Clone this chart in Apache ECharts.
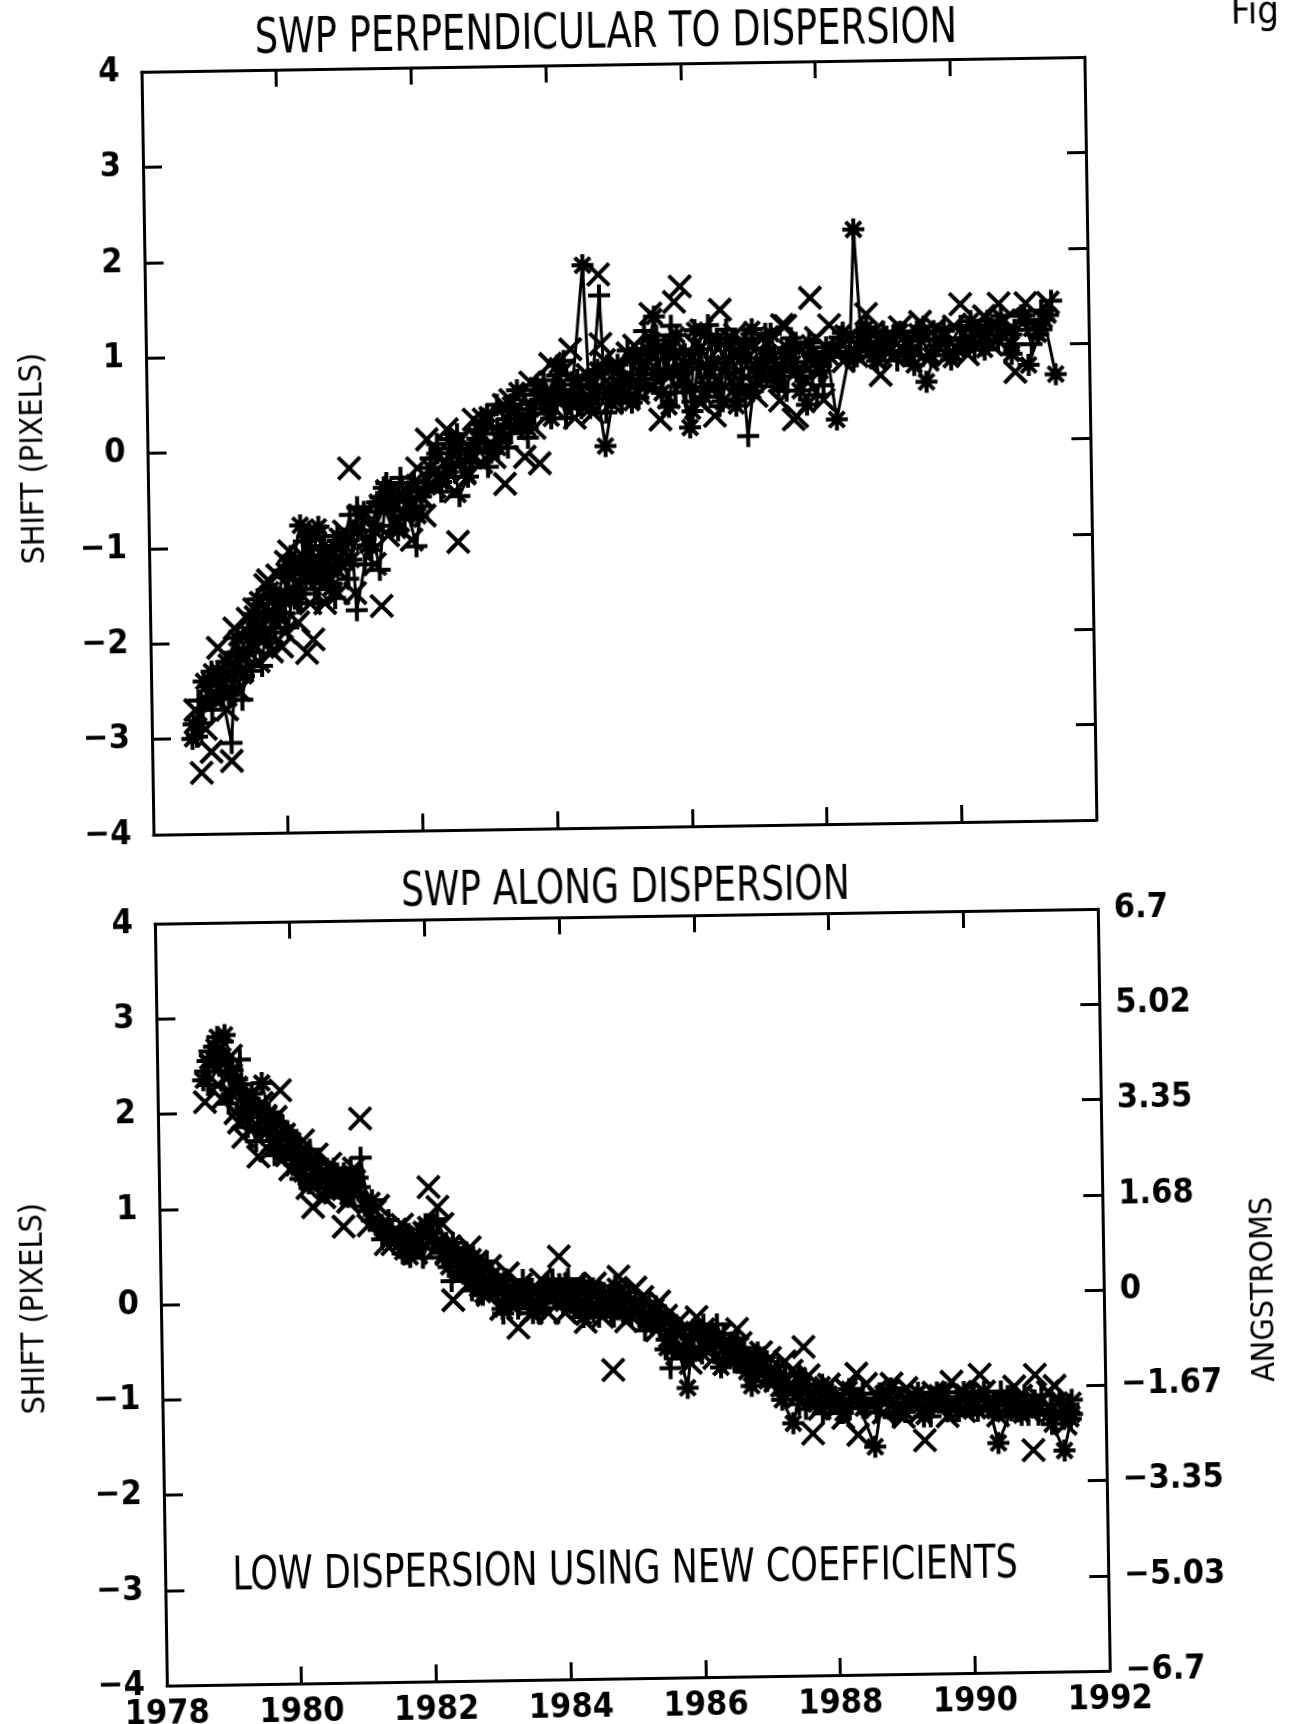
<!DOCTYPE html>
<html>
<head>
<meta charset="utf-8">
<script src="https://cdn.jsdelivr.net/npm/echarts@6.0.0/dist/echarts.min.js"></script>
<style>
html,body{margin:0;padding:0;background:#fff;overflow:hidden;}
#chart{width:1291px;height:1724px;transform:rotate(-0.9deg);transform-origin:645.5px 862px;background:#fff;}
</style>
</head>
<body>
<div id="chart"></div>
<script>
// ---------- labels ----------
const yearLabels = ['1978','1980','1982','1984','1986','1988','1990','1992'];
const leftTickLabels = ['\u22124','\u22123','\u22122','\u22121','0','1','2','3','4'];
const rightTickLabels = ['\u22126.7','\u22125.03','\u22123.35','\u22121.67','0','1.68','3.35','5.02','6.7'];

const titleTop = 'SWP PERPENDICULAR TO DISPERSION';
const titleBottom = 'SWP ALONG DISPERSION';
const noteBottom = 'LOW DISPERSION USING NEW COEFFICIENTS';
const yNameLeft = 'SHIFT (PIXELS)';
const yNameRight = 'ANGSTROMS';
const figureLabel = 'Figure 12';

// ---------- data: [year, shift in pixels] ----------
// top panel: perpendicular to dispersion
const perpCross = [
[1978.73,-3.36],[1978.88,-3.14],[1978.95,-2.6],[1979.18,-3.24],[1979.12,-2.7],[1979.2,-2.35],[1979.3,-2.5],[1979.4,-2.15],[1979.5,-2.0],[1979.55,-1.65],[1979.65,-1.95],[1979.72,-1.4],[1979.76,-1.35],[1979.85,-1.8],[1979.95,-2.05],[1980.03,-1.16],[1980.1,-1.55],[1980.2,-1.8],[1980.32,-2.12],[1980.42,-1.98],[1980.5,-1.2],[1980.6,-1.6],[1980.7,-1.35],[1980.8,-1.5],[1980.99,-0.19],[1981.05,-1.5],[1981.24,-0.94],[1981.44,-1.64],[1981.5,-0.6],[1981.7,-0.75],[1981.75,-0.45],[1981.9,-0.95],[1982.05,-0.5],[1982.15,0.1],[1982.3,-0.3],[1982.45,0.2],[1982.59,-0.98],[1982.7,-0.25],[1982.85,0.3],[1982.95,-0.15],[1983.1,0.05],[1983.3,0.45],[1983.3,-0.38],[1983.45,0.2],[1983.6,-0.1],[1983.7,0.68],[1983.82,-0.17],[1984.0,0.87],[1984.15,0.5],[1984.3,1.02],[1984.45,0.6],[1984.73,1.8],[1984.75,1.07],[1984.9,0.45],[1985.0,0.8],[1985.15,0.97],[1985.3,0.55],[1985.5,1.38],[1985.62,0.27],[1985.7,0.75],[1985.85,1.5],[1985.94,1.66],[1986.1,0.9],[1986.25,1.2],[1986.43,0.3],[1986.53,1.41],[1986.7,0.95],[1986.85,0.55],[1987.0,1.05],[1987.2,0.7],[1987.45,1.24],[1987.5,1.23],[1987.6,0.25],[1987.65,0.28],[1987.87,1.52],[1988.0,0.9],[1988.15,1.23],[1988.35,0.85],[1988.7,1.34],[1988.9,0.7],[1989.0,1.0],[1989.2,1.2],[1989.4,0.95],[1989.73,1.18],[1989.9,0.9],[1990.1,1.43],[1990.3,1.0],[1990.45,1.3],[1990.67,1.43],[1990.9,0.71],[1991.07,1.43],[1991.4,1.43]
];
const perpCross2 = [
[1978.65,-2.7],[1978.8,-2.9],[1979.0,-2.05],[1979.1,-2.55],[1979.25,-1.85],[1979.35,-2.3],[1979.45,-1.75],[1979.6,-2.2],[1979.7,-1.65],[1979.8,-2.1],[1979.9,-1.3],[1980.0,-1.9],[1980.08,-1.05],[1980.18,-1.4],[1980.28,-1.1],[1980.38,-1.6],[1980.48,-0.9],[1980.58,-1.4],[1980.68,-1.05],[1980.78,-1.25],[1980.9,-0.85],[1981.15,-0.7],[1981.35,-1.2],[1981.55,-0.9],[1981.65,-0.4],[1981.85,-0.6],[1982.0,-0.2],[1982.1,-0.7],[1982.25,-0.4],[1982.4,-0.15],[1982.55,-0.45],[1982.65,0.1],[1982.8,-0.1],[1983.0,0.3],[1983.15,-0.1],[1983.25,0.15],[1983.4,0.5],[1983.55,0.3],[1983.75,0.2],[1983.9,0.55],[1984.05,0.4],[1984.2,0.8],[1984.35,0.3],[1984.55,0.75],[1984.62,0.35],[1984.8,0.9],[1984.95,0.6],[1985.1,0.7],[1985.25,1.05],[1985.4,0.85],[1985.5,0.6],[1985.6,1.0],[1985.75,0.5],[1985.85,0.95],[1986.0,0.7],[1986.15,1.05],[1986.2,0.45],[1986.35,0.75],[1986.5,1.0],[1986.6,0.6],[1986.75,1.15],[1986.9,0.7],[1987.05,0.5],[1987.15,1.1],[1987.3,0.9],[1987.4,0.45],[1987.55,0.8],[1987.7,1.0],[1987.8,0.65],[1987.95,1.1],[1988.05,0.45],[1988.25,0.95],[1988.45,1.1],[1988.55,0.9],[1988.8,1.15],[1989.1,0.9],[1989.3,1.05],[1989.5,1.25],[1989.6,0.85],[1989.85,1.1],[1990.0,1.2],[1990.2,0.9],[1990.4,1.15],[1990.55,1.0],[1990.75,1.25],[1991.2,1.2]
];
const perpPlus = [
[1978.67,-2.98],[1978.74,-2.84],[1978.85,-2.45],[1978.95,-2.35],[1979.05,-2.55],[1979.18,-3.05],[1979.25,-2.3],[1979.35,-2.6],[1979.45,-2.1],[1979.55,-1.85],[1979.65,-2.25],[1979.75,-1.6],[1979.85,-1.9],[1979.95,-1.55],[1980.05,-1.85],[1980.15,-1.3],[1980.25,-1.5],[1980.35,-0.9],[1980.45,-1.45],[1980.55,-1.0],[1980.65,-1.25],[1980.75,-1.55],[1980.85,-1.1],[1980.99,-0.68],[1981.07,-1.68],[1981.2,-1.2],[1981.32,-0.85],[1981.42,-1.26],[1981.54,-0.35],[1981.65,-0.65],[1981.8,-0.5],[1981.97,-1.02],[1982.05,-0.6],[1982.2,-0.1],[1982.35,-0.45],[1982.5,0.0],[1982.62,-0.5],[1982.75,-0.3],[1982.9,0.05],[1983.05,-0.2],[1983.2,0.2],[1983.35,0.0],[1983.5,0.35],[1983.65,0.1],[1983.8,0.6],[1983.95,0.4],[1984.1,0.75],[1984.22,0.3],[1984.35,0.55],[1984.45,0.4],[1984.6,0.5],[1984.74,1.58],[1984.82,0.35],[1984.95,0.6],[1985.05,0.45],[1985.2,0.75],[1985.32,0.6],[1985.45,0.9],[1985.58,1.15],[1985.7,0.8],[1985.8,1.25],[1985.9,0.75],[1986.0,0.55],[1986.12,1.0],[1986.25,0.6],[1986.38,1.15],[1986.5,0.4],[1986.62,1.2],[1986.72,0.75],[1986.82,0.95],[1986.92,0.08],[1987.05,0.8],[1987.18,1.0],[1987.3,0.65],[1987.45,0.9],[1987.58,1.1],[1987.72,0.7],[1987.9,0.95],[1988.05,0.6],[1988.2,1.0],[1988.4,0.9],[1988.6,1.05],[1988.8,0.9],[1988.95,1.15],[1989.15,0.85],[1989.35,1.0],[1989.55,1.2],[1989.7,0.9],[1989.9,1.05],[1990.1,1.07],[1990.3,1.1],[1990.5,1.25],[1990.7,1.18],[1990.85,1.1],[1991.0,1.3],[1991.15,1.0],[1991.3,1.35],[1991.45,1.45]
];
const perpPlus2 = [
[1978.7,-2.6],[1978.9,-2.7],[1979.1,-2.35],[1979.3,-2.1],[1979.5,-2.3],[1979.7,-1.7],[1979.85,-1.5],[1980.0,-1.7],[1980.1,-1.1],[1980.2,-1.6],[1980.3,-0.95],[1980.4,-1.35],[1980.5,-1.6],[1980.6,-0.9],[1980.7,-1.4],[1980.8,-0.95],[1980.95,-1.35],[1981.1,-0.6],[1981.3,-1.05],[1981.45,-0.5],[1981.6,-0.8],[1981.75,-0.3],[1981.9,-0.7],[1982.1,-0.35],[1982.3,0.05],[1982.45,-0.3],[1982.6,0.15],[1982.8,-0.2],[1983.0,0.15],[1983.2,0.45],[1983.4,0.15],[1983.6,0.55],[1983.75,0.35],[1983.9,0.7],[1984.05,0.5],[1984.2,0.9],[1984.4,0.45],[1984.55,0.7],[1984.7,0.5],[1984.85,0.85],[1985.0,0.6],[1985.15,1.0],[1985.3,0.5],[1985.4,1.2],[1985.55,0.7],[1985.7,1.05],[1985.85,0.55],[1986.0,0.95],[1986.1,0.45],[1986.2,0.8],[1986.35,1.25],[1986.45,0.6],[1986.6,0.9],[1986.75,0.45],[1986.9,1.1],[1987.05,0.6],[1987.2,1.15],[1987.35,0.8],[1987.5,0.55],[1987.65,1.05],[1987.8,0.85],[1987.95,0.5],[1988.1,0.9],[1988.3,1.1],[1988.5,0.85],[1988.7,1.1],[1988.9,0.95],[1989.1,1.1],[1989.3,0.9],[1989.5,1.05],[1989.7,1.15],[1989.9,0.95],[1990.1,1.2],[1990.3,0.95],[1990.5,1.1],[1990.7,1.3],[1990.9,1.15],[1991.1,1.25],[1991.3,1.15]
];
const perpStar = [
[1978.6,-3.0],[1978.78,-2.4],[1978.9,-2.3],[1979.02,-2.5],[1979.12,-2.2],[1979.28,-1.95],[1979.38,-2.35],[1979.52,-1.7],[1979.65,-1.85],[1979.8,-1.45],[1979.92,-1.75],[1980.02,-1.5],[1980.12,-1.2],[1980.25,-0.78],[1980.32,-1.35],[1980.42,-1.15],[1980.52,-0.8],[1980.62,-1.3],[1980.72,-1.05],[1980.84,-1.2],[1980.95,-0.95],[1981.1,-0.85],[1981.25,-1.0],[1981.4,-0.55],[1981.5,-0.4],[1981.65,-0.55],[1981.8,-0.7],[1981.95,-0.35],[1982.05,-0.5],[1982.2,-0.2],[1982.35,-0.35],[1982.5,0.1],[1982.65,-0.15],[1982.8,0.0],[1982.95,0.25],[1983.1,-0.05],[1983.25,0.15],[1983.4,0.45],[1983.55,0.25],[1983.7,0.4],[1983.85,0.5],[1984.0,0.3],[1984.15,0.65],[1984.3,0.45],[1984.5,1.9],[1984.58,0.4],[1984.68,0.6],[1984.8,0.0],[1984.92,0.5],[1985.05,0.7],[1985.2,0.45],[1985.35,0.75],[1985.45,1.0],[1985.55,1.35],[1985.65,0.55],[1985.78,1.0],[1985.9,0.75],[1986.06,0.18],[1986.15,1.2],[1986.28,0.5],[1986.4,0.85],[1986.55,0.45],[1986.68,1.05],[1986.8,0.55],[1986.92,0.9],[1987.0,1.2],[1987.12,0.7],[1987.25,0.95],[1987.38,0.6],[1987.52,1.0],[1987.65,0.75],[1987.8,0.4],[1987.95,0.85],[1988.1,1.0],[1988.24,0.24],[1988.45,0.95],[1988.53,2.23],[1988.62,1.1],[1988.75,0.95],[1988.9,1.05],[1989.05,0.95],[1989.2,1.15],[1989.4,0.8],[1989.58,0.62],[1989.75,1.0],[1989.95,0.85],[1990.15,1.0],[1990.3,1.15],[1990.45,0.95],[1990.65,1.05],[1990.85,0.9],[1991.1,0.78],[1991.34,1.25],[1991.5,0.68]
];
const perpStar2 = [
[1978.62,-2.85],[1978.82,-2.6],[1979.0,-2.3],[1979.15,-2.55],[1979.32,-2.15],[1979.45,-1.9],[1979.6,-1.55],[1979.72,-1.95],[1979.88,-1.6],[1980.0,-1.25],[1980.15,-1.55],[1980.28,-1.2],[1980.38,-0.85],[1980.48,-1.3],[1980.58,-1.1],[1980.68,-1.45],[1980.8,-0.9],[1981.0,-1.15],[1981.2,-0.65],[1981.35,-0.85],[1981.55,-0.5],[1981.7,-0.85],[1981.85,-0.45],[1982.0,-0.7],[1982.15,-0.4],[1982.3,-0.05],[1982.45,-0.25],[1982.6,0.05],[1982.75,-0.3],[1982.9,0.1],[1983.05,0.35],[1983.2,0.0],[1983.35,0.3],[1983.5,0.6],[1983.65,0.2],[1983.8,0.65],[1983.95,0.45],[1984.1,0.85],[1984.25,0.5],[1984.4,0.7],[1984.55,0.45],[1984.7,0.8],[1984.85,0.55],[1985.0,0.85],[1985.12,0.55],[1985.25,0.95],[1985.4,0.65],[1985.52,1.1],[1985.62,0.75],[1985.75,0.4],[1985.88,1.15],[1986.0,0.85],[1986.1,0.35],[1986.22,1.0],[1986.35,0.6],[1986.48,1.1],[1986.6,0.8],[1986.75,0.4],[1986.88,1.0],[1987.0,0.55],[1987.15,0.85],[1987.28,1.15],[1987.42,0.7],[1987.55,0.95],[1987.7,0.55],[1987.85,1.05],[1988.0,0.75],[1988.15,0.9],[1988.35,1.15],[1988.55,0.9],[1988.7,1.2],[1988.85,0.85],[1989.0,1.1],[1989.25,0.95],[1989.45,1.15],[1989.65,0.9],[1989.85,1.15],[1990.05,0.95],[1990.25,1.25],[1990.45,1.1],[1990.65,1.2],[1990.85,1.0],[1991.05,1.3],[1991.25,1.1],[1991.4,1.3]
];

// bottom panel: along dispersion
const alongCross = [
[1978.7,2.12],[1978.9,2.3],[1979.05,2.38],[1979.15,2.0],[1979.26,1.75],[1979.35,2.15],[1979.48,1.54],[1979.6,1.95],[1979.7,1.7],[1979.82,2.23],[1979.9,1.55],[1980.05,1.45],[1980.15,1.7],[1980.28,1.0],[1980.4,1.3],[1980.55,1.45],[1980.6,1.15],[1980.73,0.79],[1980.85,1.25],[1981.0,1.92],[1981.2,0.95],[1981.35,0.6],[1981.5,0.75],[1981.65,0.55],[1981.85,0.65],[1982.0,1.19],[1982.13,0.98],[1982.25,0.5],[1982.34,0.0],[1982.5,0.3],[1982.6,0.55],[1982.75,0.15],[1982.9,0.35],[1983.05,-0.1],[1983.16,0.27],[1983.3,-0.3],[1983.45,0.05],[1983.6,0.1],[1983.75,-0.15],[1983.92,0.44],[1984.1,0.1],[1984.25,-0.1],[1984.4,0.05],[1984.55,-0.2],[1984.7,-0.76],[1984.8,0.22],[1985.0,-0.15],[1985.15,0.0],[1985.35,-0.35],[1985.5,-0.2],[1985.65,-0.6],[1985.8,-0.45],[1985.95,-0.22],[1986.1,-0.55],[1986.3,-0.4],[1986.45,-0.7],[1986.6,-0.5],[1986.8,-0.85],[1987.03,-0.66],[1987.2,-0.95],[1987.35,-0.8],[1987.53,-0.55],[1987.65,-1.46],[1987.8,-1.05],[1988.0,-1.2],[1988.15,-1.0],[1988.31,-0.84],[1988.32,-1.48],[1988.5,-1.15],[1988.7,-1.25],[1988.83,-0.95],[1989.0,-1.3],[1989.15,-1.1],[1989.31,-1.55],[1989.5,-1.2],[1989.72,-0.94],[1989.9,-1.25],[1990.14,-0.87],[1990.3,-1.15],[1990.55,-1.25],[1990.75,-1.1],[1990.92,-1.67],[1990.96,-0.88],[1991.15,-1.06],[1991.3,-1.3],[1991.47,-1.19]
];
const alongCross2 = [
[1978.8,2.5],[1978.95,2.15],[1979.1,2.6],[1979.2,1.9],[1979.4,1.85],[1979.55,2.1],[1979.65,1.6],[1979.75,1.95],[1979.95,1.4],[1980.1,1.55],[1980.2,1.2],[1980.35,1.55],[1980.45,1.1],[1980.65,1.3],[1980.8,1.05],[1980.9,1.4],[1981.1,0.8],[1981.25,1.0],[1981.45,0.6],[1981.6,0.8],[1981.8,0.5],[1981.95,0.7],[1982.1,0.55],[1982.2,0.8],[1982.4,0.45],[1982.55,0.15],[1982.7,0.4],[1982.85,0.05],[1983.0,0.2],[1983.2,-0.05],[1983.35,0.15],[1983.5,-0.15],[1983.65,0.2],[1983.8,0.0],[1984.0,-0.15],[1984.15,0.15],[1984.3,-0.25],[1984.45,0.15],[1984.6,0.0],[1984.9,-0.25],[1985.05,0.1],[1985.25,-0.2],[1985.4,-0.05],[1985.55,-0.5],[1985.7,-0.25],[1985.85,-0.7],[1986.05,-0.35],[1986.2,-0.65],[1986.35,-0.55],[1986.55,-0.35],[1986.7,-0.65],[1986.9,-0.6],[1987.1,-0.9],[1987.25,-0.7],[1987.45,-1.05],[1987.6,-0.85],[1987.75,-1.2],[1987.9,-0.95],[1988.1,-1.3],[1988.25,-1.1],[1988.45,-0.95],[1988.65,-1.1],[1988.9,-1.2],[1989.05,-1.0],[1989.25,-1.25],[1989.45,-1.05],[1989.65,-1.3],[1989.85,-1.05],[1990.05,-1.2],[1990.2,-1.05],[1990.4,-1.3],[1990.65,-1.0],[1990.85,-1.25],[1991.05,-1.15],[1991.25,-1.0],[1991.4,-1.4]
];
const alongPlus = [
[1978.71,2.44],[1978.78,2.65],[1978.88,2.55],[1978.98,2.75],[1979.08,2.25],[1979.23,2.56],[1979.33,1.85],[1979.43,2.1],[1979.52,1.8],[1979.65,1.9],[1979.78,1.6],[1979.9,1.75],[1980.02,1.5],[1980.15,1.4],[1980.25,1.6],[1980.38,1.2],[1980.5,1.4],[1980.62,1.2],[1980.75,1.35],[1980.88,1.15],[1981.0,1.51],[1981.1,0.95],[1981.25,0.75],[1981.4,0.85],[1981.55,0.6],[1981.7,0.7],[1981.85,0.55],[1982.0,0.8],[1982.12,0.85],[1982.25,0.6],[1982.4,0.35],[1982.55,0.5],[1982.7,0.2],[1982.85,0.4],[1983.0,0.05],[1983.15,0.2],[1983.3,-0.1],[1983.45,0.12],[1983.6,-0.05],[1983.75,0.15],[1983.9,0.0],[1984.05,0.2],[1984.2,-0.1],[1984.35,0.08],[1984.5,-0.2],[1984.65,0.0],[1984.8,-0.1],[1984.95,0.05],[1985.1,-0.2],[1985.25,-0.05],[1985.4,-0.35],[1985.55,-0.75],[1985.65,-0.3],[1985.8,-0.55],[1985.95,-0.35],[1986.1,-0.45],[1986.25,-0.3],[1986.4,-0.6],[1986.55,-0.45],[1986.7,-0.75],[1986.85,-0.6],[1987.0,-0.85],[1987.15,-0.75],[1987.3,-0.95],[1987.45,-1.15],[1987.6,-0.95],[1987.8,-1.25],[1988.0,-1.1],[1988.2,-1.2],[1988.4,-1.05],[1988.6,-1.25],[1988.8,-1.1],[1989.0,-1.2],[1989.2,-1.1],[1989.4,-1.3],[1989.6,-1.15],[1989.8,-1.1],[1990.0,-1.2],[1990.2,-1.1],[1990.4,-1.15],[1990.6,-1.2],[1990.8,-1.1],[1991.0,-1.3],[1991.2,-1.2],[1991.38,-1.35],[1991.5,-1.15]
];
const alongPlus2 = [
[1978.75,2.3],[1978.92,2.5],[1979.05,2.1],[1979.18,2.35],[1979.3,2.05],[1979.45,1.7],[1979.58,2.0],[1979.72,1.55],[1979.85,1.85],[1979.98,1.6],[1980.1,1.3],[1980.22,1.5],[1980.35,1.3],[1980.48,1.25],[1980.6,1.4],[1980.72,1.1],[1980.85,1.4],[1980.98,1.2],[1981.15,0.85],[1981.3,0.65],[1981.45,0.75],[1981.6,0.5],[1981.75,0.65],[1981.9,0.45],[1982.05,0.7],[1982.2,0.5],[1982.32,0.2],[1982.48,0.45],[1982.62,0.1],[1982.78,0.3],[1982.92,0.1],[1983.08,-0.15],[1983.22,0.05],[1983.38,0.2],[1983.52,0.0],[1983.68,-0.1],[1983.82,0.2],[1983.98,0.1],[1984.12,-0.05],[1984.28,0.15],[1984.42,-0.15],[1984.58,0.05],[1984.72,-0.2],[1984.88,0.0],[1985.02,-0.1],[1985.18,-0.35],[1985.32,-0.15],[1985.48,-0.55],[1985.62,-0.4],[1985.75,-0.65],[1985.9,-0.45],[1986.05,-0.3],[1986.2,-0.6],[1986.35,-0.4],[1986.5,-0.7],[1986.65,-0.55],[1986.8,-0.8],[1986.95,-0.65],[1987.1,-0.95],[1987.25,-0.85],[1987.4,-1.0],[1987.55,-1.2],[1987.7,-1.0],[1987.85,-1.1],[1988.05,-1.25],[1988.25,-1.05],[1988.45,-1.2],[1988.65,-1.05],[1988.85,-1.3],[1989.05,-1.1],[1989.25,-1.2],[1989.45,-1.1],[1989.65,-1.25],[1989.85,-1.15],[1990.05,-1.05],[1990.25,-1.2],[1990.45,-1.05],[1990.65,-1.1],[1990.85,-1.3],[1991.05,-1.1],[1991.25,-1.3],[1991.45,-1.2]
];
const alongStar = [
[1978.75,2.55],[1978.9,2.8],[1979.01,2.82],[1979.12,2.45],[1979.27,2.0],[1979.4,2.2],[1979.55,2.31],[1979.65,2.0],[1979.78,1.7],[1979.92,1.8],[1980.02,1.45],[1980.12,1.6],[1980.22,1.25],[1980.35,1.45],[1980.5,1.15],[1980.65,1.35],[1980.8,1.1],[1980.95,1.3],[1981.16,1.06],[1981.4,0.7],[1981.55,0.6],[1981.71,0.46],[1981.88,0.75],[1982.05,0.65],[1982.2,0.45],[1982.35,0.6],[1982.5,0.3],[1982.65,0.45],[1982.78,0.05],[1982.92,0.25],[1983.07,-0.1],[1983.22,0.1],[1983.37,0.0],[1983.52,-0.15],[1983.67,0.05],[1983.82,0.12],[1983.97,-0.05],[1984.12,0.05],[1984.27,-0.2],[1984.42,0.1],[1984.6,-0.05],[1984.75,0.12],[1984.9,-0.15],[1985.05,-0.05],[1985.2,-0.25],[1985.35,-0.1],[1985.5,-0.45],[1985.6,-0.3],[1985.8,-0.96],[1985.9,-0.35],[1986.02,-0.6],[1986.15,-0.4],[1986.3,-0.75],[1986.45,-0.5],[1986.6,-0.7],[1986.75,-0.95],[1986.9,-0.75],[1987.05,-0.85],[1987.2,-1.1],[1987.36,-1.35],[1987.5,-0.95],[1987.7,-1.15],[1987.9,-1.05],[1988.1,-1.25],[1988.3,-1.1],[1988.57,-1.61],[1988.7,-1.05],[1988.9,-1.25],[1989.1,-1.15],[1989.3,-1.3],[1989.5,-1.05],[1989.7,-1.2],[1989.9,-1.05],[1990.1,-1.25],[1990.25,-1.15],[1990.4,-1.59],[1990.6,-1.25],[1990.8,-1.2],[1991.0,-1.25],[1991.2,-1.4],[1991.38,-1.68],[1991.5,-1.3]
];
const alongStar2 = [
[1978.68,2.35],[1978.85,2.7],[1978.98,2.6],[1979.1,2.2],[1979.22,2.3],[1979.35,1.95],[1979.5,2.05],[1979.62,1.8],[1979.75,1.9],[1979.88,1.55],[1980.0,1.7],[1980.12,1.35],[1980.25,1.5],[1980.4,1.35],[1980.55,1.25],[1980.7,1.2],[1980.85,1.35],[1981.05,1.0],[1981.3,0.8],[1981.5,0.65],[1981.65,0.7],[1981.8,0.6],[1981.95,0.8],[1982.1,0.6],[1982.28,0.35],[1982.42,0.5],[1982.58,0.25],[1982.72,0.35],[1982.88,0.1],[1983.02,0.15],[1983.18,-0.05],[1983.32,0.1],[1983.48,0.05],[1983.62,-0.1],[1983.78,0.05],[1983.92,0.15],[1984.08,-0.05],[1984.22,0.1],[1984.38,-0.1],[1984.52,0.0],[1984.68,-0.15],[1984.82,0.05],[1984.98,-0.2],[1985.12,-0.1],[1985.28,-0.3],[1985.42,-0.2],[1985.58,-0.55],[1985.72,-0.35],[1985.88,-0.6],[1986.08,-0.45],[1986.22,-0.5],[1986.38,-0.65],[1986.52,-0.55],[1986.68,-0.8],[1986.82,-0.65],[1986.98,-0.9],[1987.12,-0.8],[1987.28,-1.0],[1987.45,-0.85],[1987.62,-1.1],[1987.8,-0.95],[1988.0,-1.15],[1988.2,-1.0],[1988.4,-1.2],[1988.62,-1.1],[1988.82,-1.0],[1989.02,-1.25],[1989.22,-1.05],[1989.42,-1.15],[1989.62,-1.05],[1989.82,-1.25],[1990.02,-1.1],[1990.2,-1.05],[1990.35,-1.25],[1990.55,-1.1],[1990.75,-1.3],[1990.95,-1.15],[1991.15,-1.3],[1991.32,-1.15],[1991.48,-1.35]
];

// ---------- styling ----------
const FONT = '"DejaVu Sans Condensed", "Liberation Sans Narrow", "DejaVu Sans", sans-serif';
const INK = '#000';
const SYM_X = 'path://M0,0L20,20M20,0L0,20';
const SYM_PLUS = 'path://M10,0L10,20M0,10L20,10';
const SYM_STAR = 'path://M10,0L10,20M3,3L17,17M17,3L3,17M0,10L20,10';
const SYM_SIZE = 22;

function xAxisDef(grid, pos, showLabels) {
  return {
    type: 'value', gridIndex: grid, position: pos, min: 1978, max: 1992, interval: 2,
    axisLine: { show: true, onZero: false, lineStyle: { color: INK, width: 3 } },
    axisTick: { show: true, inside: true, length: 17, lineStyle: { color: INK, width: 3 } },
    axisLabel: {
      show: showLabels, margin: 12, color: INK, fontFamily: FONT, fontSize: 34, fontWeight: 'bold',
      formatter: v => yearLabels[Math.round((v - 1978) / 2)]
    },
    splitLine: { show: false }
  };
}
function yAxisDef(grid, pos, labels) {
  return {
    type: 'value', gridIndex: grid, position: pos, min: -4, max: 4, interval: 1,
    axisLine: { show: true, onZero: false, lineStyle: { color: INK, width: 3 } },
    axisTick: { show: true, inside: true, length: 19, lineStyle: { color: INK, width: 3 } },
    axisLabel: {
      show: !!labels, margin: pos === 'left' ? 22 : 16, color: INK, fontFamily: FONT, fontSize: 34, fontWeight: 'bold',
      formatter: v => labels ? labels[Math.round(v) + 4] : ''
    },
    splitLine: { show: false }
  };
}
function markSeries(data, symbol, xi, yi, withLine) {
  return {
    type: withLine ? 'line' : 'scatter',
    xAxisIndex: xi, yAxisIndex: yi,
    data: data,
    symbol: symbol, symbolSize: SYM_SIZE, showAllSymbol: true,
    itemStyle: { color: INK, borderColor: INK, borderWidth: 4, opacity: 1 },
    lineStyle: { color: INK, width: 3 },
    silent: true, clip: true, z: withLine ? 3 : 2
  };
}

const chart = echarts.init(document.getElementById('chart'), null, { renderer: 'canvas' });
chart.setOption({
  animation: false,
  backgroundColor: '#fff',
  grid: [
    { left: 154, top: 64, width: 943, height: 763 },
    { left: 154, top: 916, width: 943, height: 762 }
  ],
  xAxis: [
    xAxisDef(0, 'bottom', false),
    xAxisDef(0, 'top', false),
    xAxisDef(1, 'bottom', true),
    xAxisDef(1, 'top', false)
  ],
  yAxis: [
    yAxisDef(0, 'left', leftTickLabels),
    yAxisDef(0, 'right', null),
    yAxisDef(1, 'left', leftTickLabels),
    yAxisDef(1, 'right', rightTickLabels)
  ],
  series: [
    markSeries(perpCross, SYM_X, 0, 0, false),
    markSeries(perpCross2, SYM_X, 0, 0, false),
    markSeries(perpPlus, SYM_PLUS, 0, 0, true),
    markSeries(perpPlus2, SYM_PLUS, 0, 0, true),
    markSeries(perpStar, SYM_STAR, 0, 0, true),
    markSeries(perpStar2, SYM_STAR, 0, 0, true),
    markSeries(alongCross, SYM_X, 2, 2, false),
    markSeries(alongCross2, SYM_X, 2, 2, false),
    markSeries(alongPlus, SYM_PLUS, 2, 2, true),
    markSeries(alongPlus2, SYM_PLUS, 2, 2, true),
    markSeries(alongStar, SYM_STAR, 2, 2, true),
    markSeries(alongStar2, SYM_STAR, 2, 2, true)
  ],
  graphic: [
    { type: 'text', x: 619, y: 34, scaleY: 1.2, style: { text: titleTop, fill: INK, font: '41px ' + FONT, align: 'center', verticalAlign: 'middle' } },
    { type: 'text', x: 625, y: 890, scaleY: 1.2, style: { text: titleBottom, fill: INK, font: '40px ' + FONT, align: 'center', verticalAlign: 'middle' } },
    { type: 'text', x: 614, y: 1571, scaleY: 1.2, style: { text: noteBottom, fill: INK, font: '39px ' + FONT, align: 'center', verticalAlign: 'middle' } },
    { type: 'text', x: 41, y: 449, rotation: Math.PI / 2, style: { text: yNameLeft, fill: INK, font: '32px ' + FONT, align: 'center', verticalAlign: 'middle' } },
    { type: 'text', x: 28, y: 1299, rotation: Math.PI / 2, style: { text: yNameLeft, fill: INK, font: '32px ' + FONT, align: 'center', verticalAlign: 'middle' } },
    { type: 'text', x: 1258, y: 1299, rotation: Math.PI / 2, style: { text: yNameRight, fill: INK, font: '32px ' + FONT, align: 'center', verticalAlign: 'middle' } },
    { type: 'text', x: 1244, y: 42, style: { text: figureLabel, fill: INK, font: '38px ' + FONT, align: 'left', verticalAlign: 'bottom' } }
  ]
});
</script>
</body>
</html>
